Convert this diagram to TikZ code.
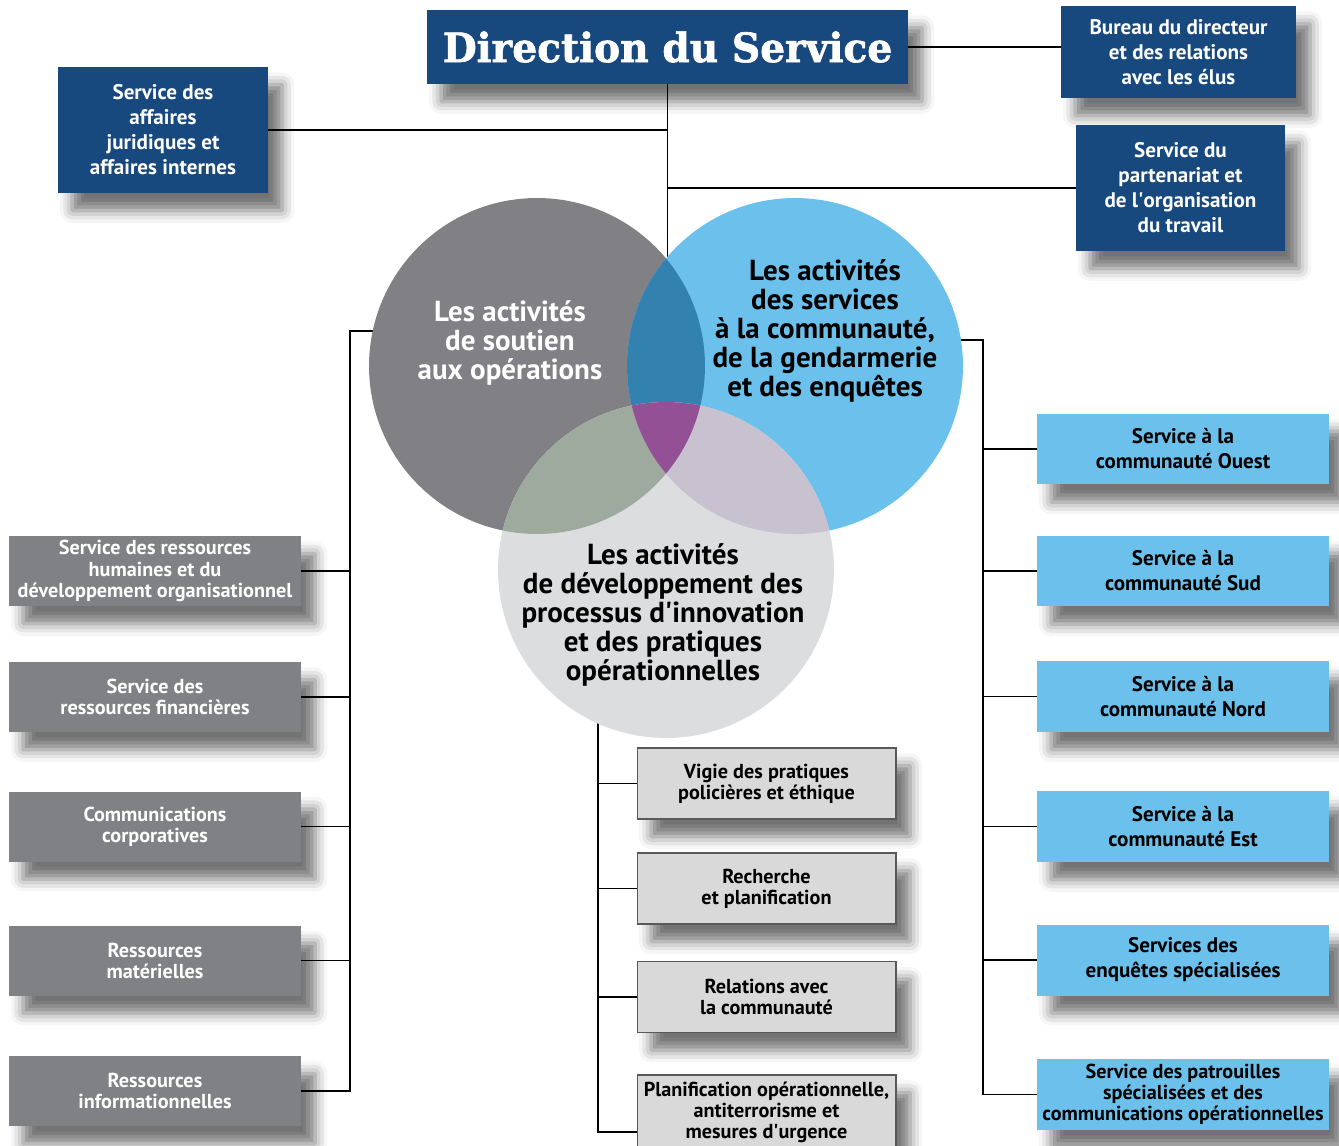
\documentclass[tikz,border=0pt]{standalone}
\usepackage{fontspec}
\setmainfont{PT Sans}
\newfontfamily\titlefont{DejaVu Serif}[BoldFeatures={FakeBold=1.6}]
\usetikzlibrary{shadows.blur}

\definecolor{dirblue}{HTML}{17497E}
\definecolor{boxgray}{HTML}{808185}
\definecolor{boxblue}{HTML}{6CC1EC}
\definecolor{boxlight}{HTML}{D9D9DA}
\definecolor{circgray}{HTML}{808085}
\definecolor{circblue}{HTML}{6CC1EC}
\definecolor{circlight}{HTML}{DCDDDF}
\definecolor{lensblue}{HTML}{3381AE}
\definecolor{lensgreen}{HTML}{9DAA9D}
\definecolor{lensmauve}{HTML}{C8C1CF}
\definecolor{lenspurple}{HTML}{935095}

\begin{document}
\begin{tikzpicture}[x=0.02cm, y=-0.02cm, line width=0.6pt]

    \tikzset{box/.style={%
      rectangle,%
      inner sep=0pt,%
      outer sep=0pt,%
      align=center,%
      font=\bfseries\fontsize{11.5}{12}\selectfont,%
      blur shadow={shadow xshift=8pt, shadow yshift=-10pt,%
        shadow blur radius=7pt, shadow opacity=55}}%
    };
    \tikzset{darkbox/.style={box, fill=dirblue, text=white,%
      font=\bfseries\fontsize{12}{14.2}\selectfont}};
    \tikzset{graybox/.style={box, fill=boxgray, text=white,%
      minimum width=5.84cm, minimum height=1.4cm}};
    \tikzset{bluebox/.style={box, fill=boxblue, text=black,%
      minimum width=5.84cm, minimum height=1.42cm,%
      font=\bfseries\fontsize{12}{14.2}\selectfont}};
    \tikzset{lightbox/.style={box, fill=boxlight, draw=black!65,%
      minimum width=5.18cm, minimum height=1.42cm}};
    \tikzset{venntext/.style={align=center,%
      font=\bfseries\fontsize{16.5}{16.4}\selectfont}};

    \useasboundingbox (0,0) rectangle (1339,1146);

    %%%%%%%%%%%%%
    % direction %
    %%%%%%%%%%%%%
    \node[darkbox, minimum width=9.62cm, minimum height=1.48cm] (title) at (667.5,47)
      {\titlefont\bfseries\fontsize{23}{26}\selectfont\scalebox{0.97}[1]{Direction du Service}};

    \node[darkbox, minimum width=4.7cm, minimum height=1.84cm] (bureau) at (1178.5,52)
      {Bureau du directeur\\ et des relations\\ avec les élus};

    \node[darkbox, minimum width=4.18cm, minimum height=2.52cm] (partenariat) at (1180.5,188)
      {Service du\\ partenariat et\\ de l\textquotesingle organisation\\ du travail};

    \node[darkbox, minimum width=4.2cm, minimum height=2.52cm] (affaires) at (163,130)
      {Service des\\ affaires\\ juridiques et\\ affaires internes};

    %%%%%%%%%%%%%%%
    % soutien     %
    %%%%%%%%%%%%%%%
    \node[graybox] (rh) at (155,571)
      {Service des ressources\\ humaines et du\\ développement organisationnel};
    \node[graybox] (finances) at (155,697)
      {Service des\\ ressources financières};
    \node[graybox] (comms) at (155,826.5)
      {Communications\\ corporatives};
    \node[graybox] (materielles) at (155,960.5)
      {Ressources\\ matérielles};
    \node[graybox] (infos) at (155,1091)
      {Ressources\\ informationnelles};

    %%%%%%%%%%%%%%%
    % communaute  %
    %%%%%%%%%%%%%%%
    \node[bluebox] (ouest) at (1183,449) {Service à la\\ communauté Ouest};
    \node[bluebox] (sud) at (1183,571) {Service à la\\ communauté Sud};
    \node[bluebox] (nord) at (1183,696.5) {Service à la\\ communauté Nord};
    \node[bluebox] (est) at (1183,826.5) {Service à la\\ communauté Est};
    \node[bluebox] (enquetes) at (1183,960) {Services des\\ enquêtes spécialisées};
    \node[bluebox, font=\bfseries\fontsize{11.5}{12}\selectfont] (patrouilles) at (1183,1094.5)
      {Service des patrouilles\\ spécialisées et des\\ communications opérationnelles};

    %%%%%%%%%%%%%%%
    % pratiques   %
    %%%%%%%%%%%%%%%
    \node[lightbox] (vigie) at (766.5,783.5) {Vigie des pratiques\\ policières et éthique};
    \node[lightbox] (recherche) at (766.5,888.5) {Recherche\\ et planification};
    \node[lightbox] (relations) at (766.5,997) {Relations avec\\ la communauté};
    \node[lightbox, minimum height=1.48cm] (plan) at (766.5,1112)
      {Planification opérationnelle,\\ antiterrorisme et\\ mesures d\textquotesingle urgence};

    %%%%%%%%%%%%%%%
    % connectors  %
    %%%%%%%%%%%%%%%
    \coordinate (soutien) at (537,366);
    \coordinate (communaute) at (795,366);
    \coordinate (developpement) at (666,570);
    \coordinate (lbus) at (350,331);
    \coordinate (rbus) at (983,340);
    \coordinate (bbus) at (598,700);

    \draw (title.east) -- (title.east -| bureau.west);
    \draw (title.south) -- (title.south |- soutien);
    \draw (affaires.east) -- (affaires.east -| title.south);
    \draw (title.south |- partenariat.west) -- (partenariat.west);

    \draw (soutien |- lbus) -- (lbus) -- (lbus |- infos.east) -- (infos.east);
    \foreach \n in {rh,finances,comms,materielles}
      \draw (\n.east) -- (\n.east -| lbus);

    \draw (communaute |- rbus) -- (rbus) -- (rbus |- patrouilles.west) -- (patrouilles.west);
    \foreach \n in {ouest,sud,nord,est,enquetes}
      \draw (\n.west) -- (\n.west -| rbus);

    \draw (developpement -| bbus) -- ([yshift=-0.4cm]plan.west -| bbus)
      -- ([yshift=-0.4cm]plan.west);
    \foreach \n in {vigie,recherche,relations}
      \draw (\n.west) -- (\n.west -| bbus);

    %%%%%%%%%%%%%%%
    % circles     %
    %%%%%%%%%%%%%%%
    \fill[circgray] (soutien) circle[radius=3.36cm];
    \fill[circblue] (communaute) circle[radius=3.36cm];
    \fill[circlight] (developpement) circle[radius=3.36cm];
    \begin{scope}
      \clip (soutien) circle[radius=3.36cm];
      \fill[lensblue] (communaute) circle[radius=3.36cm];
      \fill[lensgreen] (developpement) circle[radius=3.36cm];
    \end{scope}
    \begin{scope}
      \clip (communaute) circle[radius=3.36cm];
      \fill[lensmauve] (developpement) circle[radius=3.36cm];
      \clip (soutien) circle[radius=3.36cm];
      \fill[lenspurple] (developpement) circle[radius=3.36cm];
    \end{scope}

    \node[venntext, text=white] (soutientext) at (510,343)
      {Les activités\\ de soutien\\ aux opérations};
    \node[venntext] (communautetext) at (825,331)
      {Les activités\\ des services\\ à la communauté,\\ de la gendarmerie\\ et des enquêtes};
    \node[venntext] (developpementtext) at (663,615)
      {Les activités\\ de développement des\\ processus d\textquotesingle innovation\\ et des pratiques\\ opérationnelles};

  \end{tikzpicture}
\end{document}
